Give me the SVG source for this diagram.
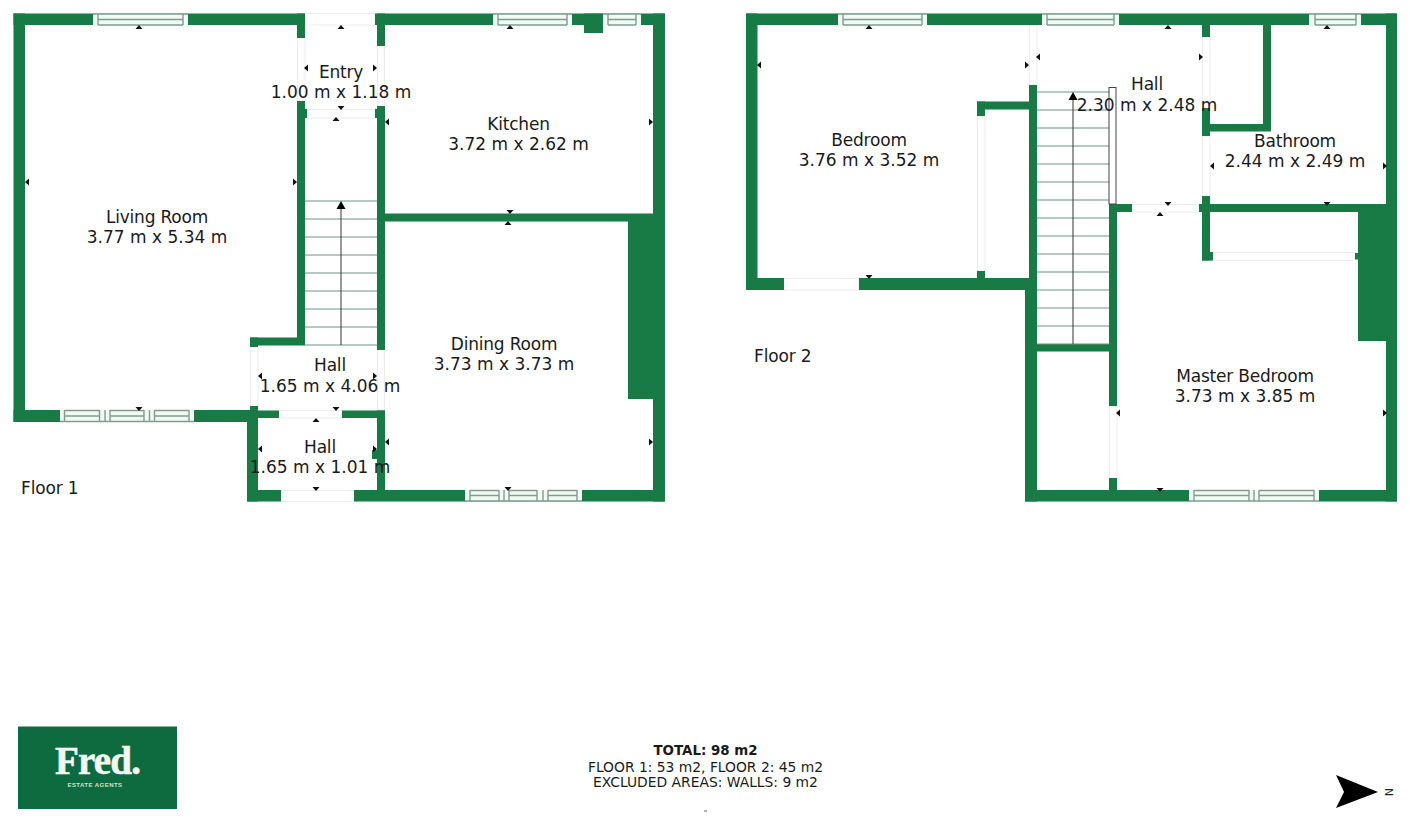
<svg xmlns="http://www.w3.org/2000/svg" width="1410" height="818" viewBox="0 0 1410 818">
<style>
.w{fill:#187a45}
.d{fill:#fff;stroke:#ececec;stroke-width:1}
.wf{fill:#f2faf6;stroke:none}
.wl{fill:none;stroke:#7f9c8e;stroke-width:1.4}
.s{fill:none;stroke:#6f9482;stroke-width:1}
.c{fill:none;stroke:#333;stroke-width:1}
.t{font-family:"DejaVu Sans",Verdana,sans-serif;font-size:17px;fill:#1a1a1a;text-anchor:middle}
.n{letter-spacing:-.2px}
.f{font-family:"DejaVu Sans",Verdana,sans-serif;font-size:17px;fill:#1a1a1a;letter-spacing:-.15px}
.b{font-family:"DejaVu Sans",Verdana,sans-serif;font-size:13.85px;fill:#1a1a1a;text-anchor:middle}
.m{fill:#111}
</style>
<defs>
<path id="u" class="m" d="M-3.500 0L3.500 0L0-4Z"/>
<path id="v" class="m" d="M-3.500 0L3.500 0L0 4Z"/>
<path id="l" class="m" d="M0-3.500L0 3.500L-4 0Z"/>
<path id="r" class="m" d="M0-3.500L0 3.500L4 0Z"/>
</defs>
<rect width="1410" height="818" fill="#fff"/>

<g id="floor-1">
<g id="f1-doors">
<rect class="d" x="305" y="13.500" width="70" height="11.500"/>
<rect class="d" x="297.500" y="38" width="7.500" height="63"/>
<rect class="d" x="377.500" y="46" width="7" height="60"/>
<rect class="d" x="305.500" y="109.500" width="70" height="8.500"/>
<rect class="d" x="250.500" y="347" width="7.500" height="59"/>
<rect class="d" x="377.500" y="350" width="7" height="60"/>
<rect class="d" x="279" y="410.500" width="63" height="7.500"/>
<rect class="d" x="281" y="490.500" width="73" height="11"/>
</g>
<g id="f1-walls">
<rect class="w" x="13.500" y="13.500" width="291.500" height="11.500"/>
<rect class="w" x="297" y="13.500" width="8" height="24.500"/>
<rect class="w" x="13.500" y="13.500" width="11.500" height="408.500"/>
<rect class="w" x="13.500" y="410" width="236.500" height="12"/>
<rect class="w" x="375" y="13.500" width="290" height="11.500"/>
<rect class="w" x="377" y="13.500" width="8" height="32.500"/>
<rect class="w" x="584" y="13.500" width="19" height="19.500"/>
<rect class="w" x="653" y="13.500" width="12" height="488"/>
<rect class="w" x="297" y="101" width="8" height="244"/>
<rect class="w" x="297" y="109" width="10" height="9"/>
<rect class="w" x="377" y="106" width="8" height="244"/>
<rect class="w" x="375" y="109" width="10" height="9"/>
<rect class="w" x="385" y="213.500" width="268" height="8"/>
<rect class="w" x="628" y="221" width="25" height="178"/>
<rect class="w" x="250" y="337.500" width="55" height="8"/>
<rect class="w" x="250" y="337.500" width="8" height="9.500"/>
<rect class="w" x="230" y="410.500" width="49" height="7.500"/>
<rect class="w" x="250" y="406" width="8" height="12"/>
<rect class="w" x="342" y="410.500" width="43" height="7.500"/>
<rect class="w" x="247" y="410.500" width="11" height="91"/>
<rect class="w" x="377" y="410.500" width="8" height="80"/>
<rect class="w" x="372" y="450" width="6" height="9"/>
<rect class="w" x="247" y="490" width="34" height="11.500"/>
<rect class="w" x="354" y="490" width="311" height="11.500"/>
</g>
<g id="f1-windows">
<rect class="wf" x="93" y="13.500" width="95" height="11.500"/>
<path class="wl" d="M93 14H188M98 14V25M183 14V25M98 19.500H183M98 25H183"/>
<rect class="wf" x="493" y="13.500" width="79" height="11.500"/>
<path class="wl" d="M493 14H572M498 14V25M567 14V25M498 19.500H567M498 25H567"/>
<rect class="wf" x="603" y="13.500" width="38" height="11.500"/>
<path class="wl" d="M603 14H641M608 14V25M636 14V25M608 19.500H636M608 25H636"/>
<rect class="wf" x="60" y="410" width="134" height="12"/>
<path class="wl" d="M60 421.500H194M64.500 410V422M99.500 410V422M105 410V422M110 410V422M144 410V422M149.500 410V422M154.500 410V422M189 410V422M64.500 410.500H99.500M110 410.500H144M154.500 410.500H189M64.500 416H99.500M110 416H144M154.500 416H189"/>
<rect class="wf" x="465" y="490" width="117" height="11.500"/>
<path class="wl" d="M465 501H582M470 490V501.500M499 490V501.500M504 490V501.500M509 490V501.500M537 490V501.500M543 490V501.500M548 490V501.500M577 490V501.500M470 490.500H499M509 490.500H537M548 490.500H577M470 495.500H499M509 495.500H537M548 495.500H577"/>
</g>
<g id="f1-stairs">
<path class="s" d="M305 201H377M305 219H377M305 237H377M305 255H377M305 273H377M305 291H377M305 309H377M305 327H377M305 345H377"/>
<path class="c" d="M341 207V345"/>
<path fill="#000" d="M336.500 209H345.500L341 201Z"/>
</g>
<g id="f1-ticks">
<use href="#u" x="139" y="29"/><use href="#u" x="341" y="29"/><use href="#u" x="336" y="121"/><use href="#u" x="510" y="29"/><use href="#u" x="508" y="225"/><use href="#u" x="316" y="422"/>
<use href="#v" x="341" y="106"/><use href="#v" x="510" y="210"/><use href="#v" x="336" y="407"/><use href="#v" x="316" y="487"/><use href="#v" x="139" y="407"/><use href="#v" x="508" y="487"/>
<use href="#l" x="29" y="182"/><use href="#l" x="308" y="68"/><use href="#l" x="389" y="122"/><use href="#l" x="389" y="442"/><use href="#l" x="262" y="449"/><use href="#l" x="262" y="376"/>
<use href="#r" x="293" y="182"/><use href="#r" x="373" y="68"/><use href="#r" x="373" y="376"/><use href="#r" x="373" y="449"/><use href="#r" x="649" y="122"/><use href="#r" x="649" y="442"/>
</g>
<g id="room-living"><text class="t n" x="157" y="223">Living Room</text><text class="t" x="157" y="243">3.77 m x 5.34 m</text></g>
<g id="room-entry"><text class="t n" x="341" y="78">Entry</text><text class="t" x="341" y="98">1.00 m x 1.18 m</text></g>
<g id="room-kitchen"><text class="t n" x="518.500" y="130">Kitchen</text><text class="t" x="518.500" y="150">3.72 m x 2.62 m</text></g>
<g id="room-dining"><text class="t n" x="504" y="349.500">Dining Room</text><text class="t" x="504" y="370">3.73 m x 3.73 m</text></g>
<g id="room-hall-a"><text class="t n" x="330" y="371">Hall</text><text class="t" x="330" y="392">1.65 m x 4.06 m</text></g>
<g id="room-hall-b"><text class="t n" x="320" y="453">Hall</text><text class="t" x="320" y="473">1.65 m x 1.01 m</text></g>
<text class="f" x="21" y="494">Floor 1</text>
</g>

<g id="floor-2">
<g id="f2-doors">
<rect class="d" x="1029.500" y="25" width="7.500" height="60"/>
<rect class="d" x="1202.500" y="37" width="7.500" height="71"/>
<rect class="d" x="1202.500" y="136" width="7.500" height="60"/>
<rect class="d" x="977.500" y="116" width="7.500" height="155"/>
<rect class="d" x="784" y="278.500" width="75" height="11.500"/>
<rect class="d" x="1132" y="204.500" width="67" height="7.500"/>
<rect class="d" x="1213" y="252.500" width="142" height="8"/>
<rect class="d" x="1109.500" y="406" width="7.500" height="72"/>
</g>
<g id="f2-walls">
<rect class="w" x="746" y="13.500" width="651" height="11.500"/>
<rect class="w" x="746" y="13.500" width="11.500" height="276.500"/>
<rect class="w" x="1386" y="13.500" width="11" height="488"/>
<rect class="w" x="746" y="278" width="38" height="12"/>
<rect class="w" x="859" y="278" width="171" height="12"/>
<rect class="w" x="1029" y="85" width="8" height="205"/>
<rect class="w" x="1025" y="285" width="12" height="216.500"/>
<rect class="w" x="977" y="101.500" width="52" height="8"/>
<rect class="w" x="977" y="101.500" width="8" height="14.500"/>
<rect class="w" x="977" y="271" width="8" height="8"/>
<rect class="w" x="1202" y="25" width="8" height="12"/>
<rect class="w" x="1263" y="25" width="8" height="106"/>
<rect class="w" x="1202" y="124" width="69" height="7.500"/>
<rect class="w" x="1202" y="108" width="8" height="28"/>
<rect class="w" x="1202" y="196" width="8" height="64.500"/>
<rect class="w" x="1109" y="204" width="23" height="8"/>
<rect class="w" x="1199" y="204" width="187" height="8"/>
<rect class="w" x="1358" y="212" width="28" height="129"/>
<rect class="w" x="1202" y="252" width="11" height="8.500"/>
<rect class="w" x="1355" y="253" width="3" height="6.500"/>
<rect class="w" x="1109" y="204" width="8" height="202"/>
<rect class="w" x="1109" y="478" width="8" height="12"/>
<rect class="w" x="1037" y="344" width="72" height="7.500"/>
<rect class="w" x="1025" y="490" width="165" height="11.500"/>
<rect class="w" x="1319" y="490" width="78" height="11.500"/>
</g>
<g id="f2-windows">
<rect class="wf" x="838" y="13.500" width="89" height="11.500"/>
<path class="wl" d="M838 14H927M843 14V25M922 14V25M843 19.500H922M843 25H922"/>
<rect class="wf" x="1042" y="13.500" width="77" height="11.500"/>
<path class="wl" d="M1042 14H1119M1047 14V25M1114 14V25M1047 19.500H1114M1047 25H1114"/>
<rect class="wf" x="1309" y="13.500" width="52" height="11.500"/>
<path class="wl" d="M1309 14H1361M1315 14V25M1356 14V25M1315 19.500H1356M1315 25H1356"/>
<rect class="wf" x="1189" y="490" width="130" height="11.500"/>
<path class="wl" d="M1189 501H1319M1194 490V501.500M1249 490V501.500M1254 490V501.500M1259 490V501.500M1314 490V501.500M1194 490.500H1249M1259 490.500H1314M1194 495.500H1249M1259 495.500H1314"/>
</g>
<g id="f2-stairs">
<path class="s" d="M1037 92H1109M1037 110H1109M1037 128H1109M1037 146H1109M1037 164H1109M1037 182H1109M1037 200H1109M1037 218H1109M1037 236H1109M1037 254H1109M1037 272H1109M1037 290H1109M1037 308H1109M1037 326H1109M1037 344H1109"/>
<path class="c" d="M1073 98V344"/>
<path fill="#000" d="M1068.500 100H1077.500L1073 92Z"/>
<rect x="1109" y="87.500" width="7" height="116.500" fill="#fff" stroke="#444" stroke-width="1"/>
</g>
<g id="f2-ticks">
<use href="#u" x="869" y="29"/><use href="#u" x="1168" y="29"/><use href="#u" x="1327" y="29"/><use href="#u" x="1160" y="216"/>
<use href="#v" x="1168" y="202"/><use href="#v" x="1327" y="202"/><use href="#v" x="869" y="275"/><use href="#v" x="1160" y="488"/>
<use href="#l" x="761" y="65"/><use href="#l" x="1040" y="57"/><use href="#l" x="1214" y="166"/><use href="#l" x="1120" y="413"/>
<use href="#r" x="1025" y="65"/><use href="#r" x="1199" y="57"/><use href="#r" x="1383" y="166"/><use href="#r" x="1383" y="413"/>
</g>
<g id="room-bedroom"><text class="t n" x="869" y="146">Bedroom</text><text class="t" x="869" y="166">3.76 m x 3.52 m</text></g>
<g id="room-hall-c"><text class="t n" x="1147" y="90">Hall</text><text class="t" x="1147" y="111">2.30 m x 2.48 m</text></g>
<g id="room-bathroom"><text class="t n" x="1295" y="147">Bathroom</text><text class="t" x="1295" y="167">2.44 m x 2.49 m</text></g>
<g id="room-master"><text class="t n" x="1245" y="382">Master Bedroom</text><text class="t" x="1245" y="402">3.73 m x 3.85 m</text></g>
<text class="f" x="754" y="362">Floor 2</text>
</g>

<g id="logo">
<rect x="18" y="726.500" width="159" height="82.500" fill="#0e6b40"/>
<text x="97.500" y="774" font-family="Liberation Serif,serif" font-weight="700" font-size="39" fill="#f4f7f2" stroke="#f4f7f2" stroke-width=".6" text-anchor="middle" letter-spacing="-.8">Fred.</text>
<text x="95" y="787" font-family="Liberation Sans,sans-serif" font-weight="700" font-size="6" fill="#cfe2d6" text-anchor="middle" letter-spacing=".45">ESTATE AGENTS</text>
</g>

<g id="summary">
<text class="b" x="705.500" y="755" font-weight="700" style="font-size:13.400px">TOTAL: 98 m2</text>
<text class="b" x="705.500" y="772">FLOOR 1: 53 m2, FLOOR 2: 45 m2</text>
<text class="b" x="705.500" y="787">EXCLUDED AREAS: WALLS: 9 m2</text>
<rect x="704" y="810.500" width="3" height="1" fill="#666"/>
</g>

<g id="north">
<path fill="#000" d="M1336 775L1378 792L1336 808L1344 792Z"/>
<text x="1388" y="792" transform="rotate(90 1388 792)" font-family="DejaVu Sans,sans-serif" font-size="11" fill="#222" text-anchor="middle" dominant-baseline="central">N</text>
</g>
</svg>
